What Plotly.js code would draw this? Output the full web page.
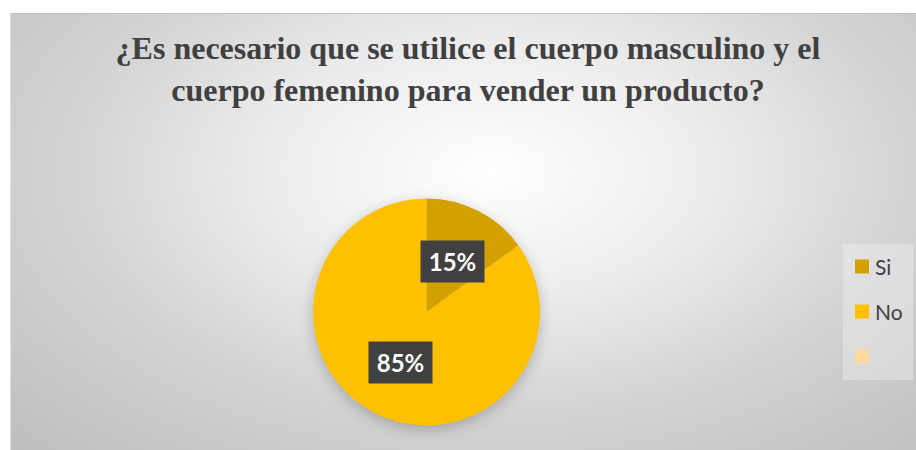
<!DOCTYPE html>
<html>
<head>
<meta charset="utf-8">
<script src="https://cdn.plot.ly/plotly-3.0.1.min.js"></script>
<style>
  html, body { margin: 0; padding: 0; background: #ffffff; }
  #wrap { position: relative; width: 916px; height: 450px; overflow: hidden; }
  #bg { position: absolute; left: 10px; top: 13px; right: 0; bottom: 0;
        border-top: 1px solid #c0c0c0; border-left: 1px solid #e0e0e0;
        background: radial-gradient(ellipse farthest-corner at 53% 36%, #ffffff 0%, #ececec 33%, #d3d3d3 62%, #bebebe 100%); }
  #chart { position: absolute; left: 0; top: 0; width: 916px; height: 450px; }
  .pielayer { filter: drop-shadow(0px 4px 7px rgba(0,0,0,0.22)); }
  .annotation.lbl { filter: drop-shadow(3px 4px 3px rgba(0,0,0,0.35)); }
</style>
</head>
<body>
<div id="wrap">
  <div id="bg"></div>
  <div id="chart"></div>
</div>
<script>
// ---- data ----
const categories = ['Si', 'No', ''];
const values = [15, 85, 0];
const sliceColors = ['#D4A000', '#FFC000', '#FFD9A0'];
const titleLines = ['¿Es necesario que se utilice el cuerpo masculino y el', 'cuerpo femenino para vender un producto?'];

// ---- geometry (styling) ----
const W = 916, H = 450;
const cx = 426.5, cy = 312, R = 113.5;
const dom = { x: [(cx - R) / W, (cx + R) / W], y: [(H - cy - R) / H, (H - cy + R) / H] };

const total = values.reduce((a, b) => a + b, 0);
const annotations = [];
let cum = 0;
values.forEach((v, i) => {
  if (v > 0) {
    const th = 2 * Math.PI * (cum + v / 2) / total;
    const px = cx + 0.5 * R * Math.sin(th);
    const py = cy - 0.5 * R * Math.cos(th);
    annotations.push({
      xref: 'paper', yref: 'paper', x: px / W, y: (H - py) / H,
      xanchor: 'center', yanchor: 'middle', showarrow: false,
      text: Math.round(v / total * 100) + '%',
      font: { family: 'Lato, "Open Sans", sans-serif', size: 24, color: '#ffffff', weight: 700 },
      bgcolor: '#404040', width: 55, height: 33, borderpad: 4, name: 'lbl'
    });
  }
  cum += v;
});

// custom legend
const shapes = [{
  type: 'rect', xref: 'paper', yref: 'paper', layer: 'below',
  x0: 843 / W, x1: 913 / W, y0: (H - 380) / H, y1: (H - 244) / H,
  fillcolor: 'rgba(245,245,245,0.35)', line: { width: 0 }
}];
categories.forEach((c, i) => {
  const yc = 266.5 + i * 45;
  shapes.push({
    type: 'rect', xref: 'paper', yref: 'paper',
    x0: 855 / W, x1: 869 / W, y0: (H - yc - 7) / H, y1: (H - yc + 7) / H,
    fillcolor: sliceColors[i], line: { width: 0 }
  });
  if (c) {
    annotations.push({
      xref: 'paper', yref: 'paper', x: 873 / W, y: (H - yc) / H,
      xanchor: 'left', yanchor: 'middle', showarrow: false, text: c,
      font: { family: 'Lato, "Open Sans", sans-serif', size: 21, color: '#404040' }
    });
  }
});

const trace = {
  type: 'pie', labels: categories.map((c, i) => c || ('item' + i)), values: values,
  marker: { colors: sliceColors, line: { width: 0 } },
  sort: false, direction: 'clockwise', rotation: 0,
  textinfo: 'none', hoverinfo: 'label+percent',
  domain: dom, showlegend: false
};

const layout = {
  width: W, height: H,
  margin: { l: 0, r: 0, t: 0, b: 0 },
  paper_bgcolor: 'rgba(0,0,0,0)', plot_bgcolor: 'rgba(0,0,0,0)',
  showlegend: false,
  title: {
    text: titleLines.join('<br>'),
    font: { family: '"Liberation Serif", "Times New Roman", serif', size: 32, color: '#404040', weight: 700 },
    x: 468 / W, xanchor: 'center', xref: 'paper',
    y: 1 - 59 / H, yanchor: 'top', yref: 'paper'
  },
  annotations: annotations,
  shapes: shapes
};

Plotly.newPlot('chart', [trace], layout, { displayModeBar: false, staticPlot: true });
</script>
</body>
</html>
